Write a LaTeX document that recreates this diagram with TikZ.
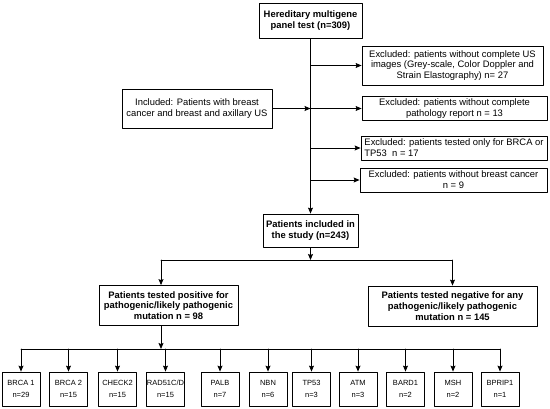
\documentclass[tikz,border=0pt]{standalone}
\usepackage{fontspec}
\setmainfont{Liberation Sans}
\usetikzlibrary{arrows.meta}

\begin{document}
\begin{tikzpicture}[x=1pt, y=-1pt, line width=0.8pt, line cap=round, line join=round,
    >={Stealth[length=6pt,width=5pt,inset=1pt]},
    every node/.style={font=\fontsize{9.4}{10.8}\selectfont},
    box/.style={draw, inner sep=2pt, align=center},
    head/.style={box, font=\fontsize{9.4}{10.8}\selectfont\bfseries},
    gene/.style={box, inner sep=0pt, minimum width=38pt, minimum height=34pt, font=\fontsize{7.5}{11.5}\selectfont}]
  \useasboundingbox (0,0) rectangle (550,408);

  % Screening column.
  \node[head, minimum width=103pt, minimum height=35pt] (panel) at (310.5,20.5) {Hereditary multigene\\panel test (n=309)};
  \node[box, minimum width=181pt, minimum height=39pt] (exUS) at (452.5,65.5) {Excluded: patients without complete US\\images (Grey-scale, Color Doppler and\\Strain Elastography) n= 27};
  \node[box, minimum width=150pt, minimum height=39pt] (incl) at (197,108.5) {Included: Patients with breast\\cancer and breast and axillary US};
  \node[box, minimum width=185pt, minimum height=23pt] (exPath) at (454.5,108.5) {Excluded: patients without complete\\pathology report n = 13};
  \node[box, align=left, minimum width=186pt, minimum height=24pt] (exBRCA) at (454,148) {Excluded: patients tested only for BRCA or\\TP53~~n = 17};
  \node[box, minimum width=187pt, minimum height=24pt] (exCa) at (453.5,180) {Excluded: patients without breast cancer\\n = 9};
  \node[head, minimum width=95pt, minimum height=33pt] (study) at (310.5,230.5) {Patients included in\\the study (n=243)};

  % Result groups.
  \node[head, minimum width=139pt, minimum height=40pt] (pos) at (168.5,305.5) {Patients tested positive for\\pathogenic/likely pathogenic\\mutation n = 98};
  \node[head, minimum width=169pt, minimum height=40pt] (neg) at (452.5,306) {Patients tested negative for any\\pathogenic/likely pathogenic\\mutation n = 145};

  % Genes found in the positive group.
  \foreach \x/\gname/\n [count=\i] in {21/BRCA 1/29, 68.5/BRCA 2/15, 117.5/CHECK2/15, 165.5/{RAD51C/D}/15,
      220/PALB/7, 268/NBN/6, 311.5/TP53/3, 358/ATM/3, 405.5/BARD1/2, 453/MSH/2, 500/BPRIP1/1} {
    \node[gene] (g\i) at (\x,389) {\gname\\n=\n};
  }

  % Junction points of the connectors.
  \coordinate (jSplit) at (310.5,260);
  \coordinate (jRow) at (161,349);

  % Trunk with the inclusion and exclusion branches.
  \draw[->] (panel.south) -- (study.north);
  \draw[->] (panel.south |- exUS.west) -- (exUS.west);
  \draw[->] (incl.east) -- (incl.east -| panel.south);
  \draw[->] (panel.south |- exPath.west) -- (exPath.west);
  \draw[->] (panel.south |- exBRCA.west) -- (exBRCA.west);
  \draw[->] (panel.south |- exCa.west) -- (exCa.west);

  % Split into positive and negative.
  \draw[->] (study.south) -- (jSplit);
  \draw (jSplit -| jRow) -- (jSplit -| neg.north);
  \draw[->] (jSplit -| jRow) -- (jRow |- pos.north);
  \draw[->] (jSplit -| neg.north) -- (neg.north);

  % Gene row.
  \draw[->] (pos.south -| jRow) -- (jRow);
  \draw (g1.north |- jRow) -- (g11.north |- jRow);
  \foreach \i in {1,...,11} {
    \draw[->] (g\i.north |- jRow) -- (g\i.north);
  }

\end{tikzpicture}
\end{document}
